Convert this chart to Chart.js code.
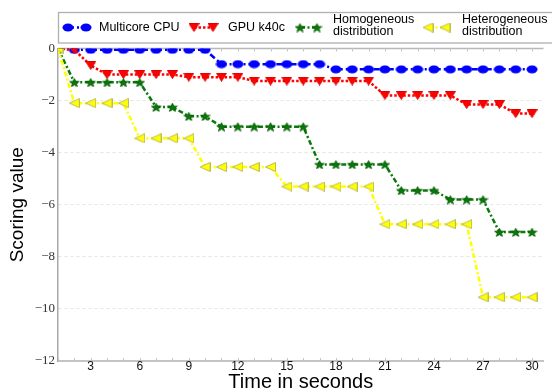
<!DOCTYPE html>
<html lang="en">
<head>
  <meta charset="UTF-8">
  <title>Scoring value over time</title>
  <script src="https://cdn.jsdelivr.net/npm/chart.js"></script>
  <style>
    html, body { margin: 0; padding: 0; background: #fff; }
  </style>
</head>
<body>
  <canvas id="chart" width="552" height="390"></canvas>
  <script>
    // values
    const seconds = [1, 2, 3, 4, 5, 6, 7, 8, 9, 10, 11, 12, 13, 14, 15,
                     16, 17, 18, 19, 20, 21, 22, 23, 24, 25, 26, 27, 28, 29, 30];
    const multicoreCpu = [0, -0.05, -0.05, -0.05, -0.05, -0.05, -0.05, -0.05, -0.05, -0.05,
                          -0.6, -0.6, -0.6, -0.6, -0.6, -0.6, -0.6,
                          -0.8, -0.8, -0.8, -0.8, -0.8, -0.8, -0.8, -0.8, -0.8, -0.8, -0.8, -0.8, -0.8];
    const gpuK40c = [0, -0.05, -0.65, -1.0, -1.0, -1.0, -1.0, -1.0, -1.1, -1.1, -1.1, -1.1,
                     -1.25, -1.25, -1.25, -1.25, -1.25, -1.25, -1.25, -1.25,
                     -1.8, -1.8, -1.8, -1.8, -1.8, -2.15, -2.15, -2.15, -2.5, -2.5];
    const homogeneous = [0, -1.3, -1.3, -1.3, -1.3, -1.3, -2.25, -2.25, -2.6, -2.6,
                         -3.0, -3.0, -3.0, -3.0, -3.0, -3.0, -4.45, -4.45, -4.45, -4.45, -4.45,
                         -5.45, -5.45, -5.45, -5.8, -5.8, -5.8, -7.05, -7.05, -7.05];
    const heterogeneous = [0, -2.1, -2.1, -2.1, -2.1, -3.45, -3.45, -3.45, -3.45,
                           -4.55, -4.55, -4.55, -4.55, -4.55, -5.3, -5.3, -5.3, -5.3, -5.3, -5.3,
                           -6.75, -6.75, -6.75, -6.75, -6.75, -6.75, -9.55, -9.55, -9.55, -9.55];
    const seriesNames = ['Multicore CPU', 'GPU k40c', 'Homogeneous\ndistribution', 'Heterogeneous\ndistribution'];
    const xTicks = [3, 6, 9, 12, 15, 18, 21, 24, 27, 30];
    const yTicks = [0, -2, -4, -6, -8, -10, -12];

    const sans = "'Liberation Sans', Arial, sans-serif";
    const serif = "'Liberation Serif', 'Times New Roman', serif";

    // markers in the source are slightly squashed, so draw them as small images
    function markerImage(w, h, fill, stroke, path) {
      const c = document.createElement('canvas');
      c.width = w; c.height = h;
      const g = c.getContext('2d');
      g.beginPath();
      path(g, w, h);
      g.closePath();
      g.fillStyle = fill;
      g.fill();
      if (stroke) { g.strokeStyle = stroke; g.lineWidth = 1; g.stroke(); }
      return c;
    }
    const ellipse = (g, w, h) => g.ellipse(w / 2, h / 2, w / 2 - 0.5, h / 2 - 0.5, 0, 0, Math.PI * 2);
    const triDown = (g, w, h) => { g.moveTo(0.5, 0.5); g.lineTo(w - 0.5, 0.5); g.lineTo(w / 2, h - 0.5); };
    const triLeft = (g, w, h) => { g.moveTo(0.5, h / 2); g.lineTo(w - 0.5, 0.5); g.lineTo(w - 0.5, h - 0.5); };
    const star = (g, w, h) => {
      for (let i = 0; i < 10; i++) {
        const a = -Math.PI / 2 + i * Math.PI / 5;
        const k = i % 2 ? 0.42 : 1;
        g.lineTo(w / 2 + k * (w / 2 - 0.5) * Math.cos(a), h / 2 + 0.6 + k * (h / 2 - 0.5) * Math.sin(a));
      }
    };

    const styles = [
      { color: '#0000ff', dash: [6, 3, 2, 3], marker: markerImage(12, 9, '#0000ff', null, ellipse) },
      { color: '#ff0000', dash: [2.5, 2], marker: markerImage(11, 9, '#ff0000', '#e00000', triDown) },
      { color: '#0a7a0a', dash: [5, 2.5, 2, 2.5], marker: markerImage(11, 10, '#0a7a0a', '#086008', star) },
      { color: '#ffff00', dash: [5, 2.5, 2, 2.5], marker: markerImage(11, 10, '#ffff00', '#bcbc5a', triLeft) }
    ];
    const seriesData = [multicoreCpu, gpuK40c, homogeneous, heterogeneous];

    const datasets = seriesData.map((vals, i) => ({
      label: seriesNames[i],
      data: seconds.map((s, j) => ({ x: s, y: vals[j] })),
      borderColor: styles[i].color,
      backgroundColor: styles[i].color,
      borderWidth: 2.5,
      borderDash: styles[i].dash,
      pointStyle: styles[i].marker,
      pointRadius: 6,
      tension: 0,
      clip: 0,
      order: 4 - i
    }));

    // top border, minor ticks every second
    const frame = {
      id: 'frame',
      beforeDatasetsDraw(chart) {
        const { ctx, chartArea: a, scales: { x } } = chart;
        ctx.save();
        ctx.strokeStyle = '#b8b8b8';
        ctx.lineWidth = 1.5;
        ctx.beginPath();
        ctx.moveTo(a.left, a.top);
        ctx.lineTo(a.right, a.top);
        ctx.stroke();
        ctx.lineWidth = 1;
        ctx.strokeStyle = '#c4c4c4';
        ctx.beginPath();
        seconds.forEach(s => {
          const px = Math.round(x.getPixelForValue(s)) + 0.5;
          ctx.moveTo(px, a.bottom);
          ctx.lineTo(px, a.bottom - 3);
          ctx.moveTo(px, a.top);
          ctx.lineTo(px, a.top + 3);
        });
        ctx.stroke();
        ctx.restore();
      }
    };

    // legend box above the axes: line sample with a marker at each end
    const legendBox = {
      id: 'legendBox',
      afterDraw(chart) {
        const ctx = chart.ctx;
        const slots = [
          { x1: 68, x2: 86, tx: 99 },
          { x1: 194, x2: 213, tx: 228 },
          { x1: 300, x2: 317, tx: 333 },
          { x1: 428, x2: 445, tx: 462 }
        ];
        const cy = 27.5;
        ctx.save();
        ctx.fillStyle = '#fff';
        ctx.fillRect(58.5, 12.5, 500, 30.5);
        ctx.strokeStyle = '#b0b0b0';
        ctx.lineWidth = 1.3;
        ctx.strokeRect(58.5, 12.5, 500, 30.5);
        chart.data.datasets.forEach((ds, i) => {
          const s = slots[i];
          ctx.setLineDash(ds.borderDash);
          ctx.strokeStyle = ds.borderColor;
          ctx.lineWidth = ds.borderWidth;
          ctx.beginPath();
          ctx.moveTo(s.x1, cy);
          ctx.lineTo(s.x2, cy);
          ctx.stroke();
          ctx.setLineDash([]);
          const m = ds.pointStyle;
          [s.x1, s.x2].forEach(px => ctx.drawImage(m, px - m.width / 2, cy - m.height / 2));
          ctx.fillStyle = '#000';
          ctx.font = '12.5px ' + sans;
          ctx.textBaseline = 'middle';
          const lines = ds.label.split('\n');
          lines.forEach((t, k) => {
            const ty = lines.length === 1 ? cy : cy - 7.5 + k * 11.5;
            ctx.fillText(t, s.tx, ty);
          });
        });
        ctx.restore();
      }
    };

    new Chart(document.getElementById('chart'), {
      type: 'line',
      data: { datasets: datasets },
      options: {
        responsive: false,
        animation: false,
        devicePixelRatio: 1,
        layout: { padding: { top: 48.5, left: 0, right: 0, bottom: 0 } },
        plugins: { legend: { display: false }, tooltip: { enabled: false } },
        scales: {
          x: {
            type: 'linear',
            min: 1,
            max: 30.7,
            afterBuildTicks: s => { s.ticks = xTicks.map(v => ({ value: v })); },
            afterFit: s => { s.height = 29; },
            grid: { display: false, drawTicks: false },
            border: { display: true, color: '#c4c4c4', width: 2 },
            ticks: {
              autoSkip: false, maxRotation: 0, padding: 0, color: '#111',
              font: { family: sans, size: 12, lineHeight: 1 }
            },
            title: {
              display: true, text: 'Time in seconds', color: '#000',
              font: { family: sans, size: 20, lineHeight: 1 },
              padding: { top: 0, bottom: -2 }
            }
          },
          y: {
            min: -12,
            max: 0,
            afterBuildTicks: s => { s.ticks = yTicks.map(v => ({ value: v })); },
            afterFit: s => { s.width = 58; },
            grid: { color: '#e4e4e4', lineWidth: 1, drawTicks: false },
            border: { display: true, color: '#a8a8a8', width: 1.5, dash: [3, 3] },
            ticks: {
              padding: 3, color: '#333',
              font: { family: serif, size: 13 },
              callback: v => v === 0 ? '0' : '\u2212' + Math.abs(v)
            },
            title: {
              display: true, text: 'Scoring value', color: '#000',
              font: { family: sans, size: 19, lineHeight: 1 },
              padding: { top: 8.5, bottom: 0 }
            }
          }
        }
      },
      plugins: [frame, legendBox]
    });
  </script>
</body>
</html>
